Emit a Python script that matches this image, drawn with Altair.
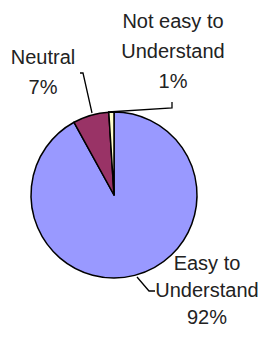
import altair as alt
import pandas as pd

categories = ["Easy to Understand", "Neutral", "Not easy to Understand"]
values = [92, 7, 1]
label_lines = [["Easy to", "Understand", "92%"], ["Neutral", "7%"], ["Not easy to", "Understand", "1%"]]
colors = ["#9999FF", "#993366", "#FFFFCC"]

pie_df = pd.DataFrame({"category": categories, "value": values, "idx": [0, 1, 2]})

# label placement (pixels inside the plot area)
lab_df = pd.DataFrame({
    "category": categories,
    "text": label_lines,
    "lx": [199, 35, 165],
    "ly": [262, 56, 20],
})

# leader lines
lead_df = pd.DataFrame({
    "category": ["Easy to Understand"] * 3 + ["Neutral"] * 3 + ["Not easy to Understand"] * 3,
    "k": [0, 1, 2] * 3,
    "px": [129, 141, 147, 84, 75, 72, 100, 164, 164],
    "py": [269, 283, 283, 105, 65, 65, 104, 100, 94],
})

CX, CY, R = 106, 187, 83

pie = alt.Chart(pie_df).mark_arc(
    radius=R, stroke="black", strokeWidth=1.5, strokeJoin="round"
).encode(
    theta=alt.Theta("value:Q", stack=True),
    order=alt.Order("idx:Q"),
    color=alt.Color("category:N", scale=alt.Scale(domain=categories, range=colors), legend=None),
    x=alt.value(CX),
    y=alt.value(CY),
)

leads = alt.Chart(lead_df).mark_line(color="black", strokeWidth=1.3).encode(
    x=alt.X("px:Q", scale=None),
    y=alt.Y("py:Q", scale=None),
    detail="category:N",
    order="k:Q",
)

label_base = alt.Chart(lab_df)
labels = [
    label_base.transform_filter(alt.datum.category == c).mark_text(
        font="Liberation Sans", fontSize=20, lineHeight=lh, align="center",
        baseline="alphabetic", color="#222222",
    ).encode(
        x=alt.X("lx:Q", scale=None),
        y=alt.Y("ly:Q", scale=None),
        text="text",
    )
    for c, lh in zip(categories, [27, 30, 30])
]

chart = alt.layer(pie, leads, *labels).properties(
    width=251, height=321, padding=0, autosize=alt.AutoSizeParams(type="none"),
    background="white",
).configure_view(stroke=None)

chart.save("out.html", embed_options={"renderer": "svg", "actions": False})
